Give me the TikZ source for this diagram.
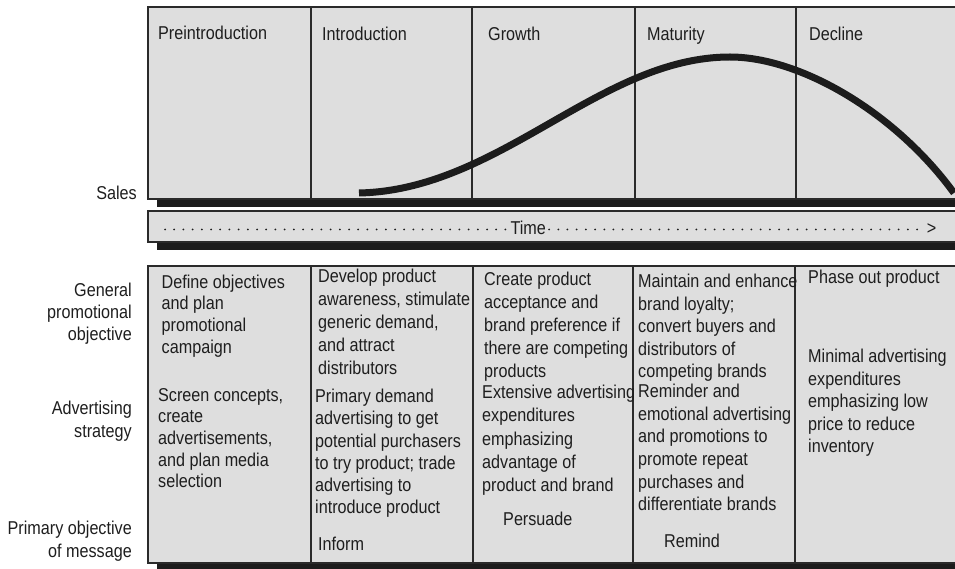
\documentclass[tikz,border=0pt]{standalone}
\usepackage{fontspec}
\setmainfont{Liberation Sans}[FakeStretch=0.87]
\definecolor{panelc}{HTML}{DEDEDE}
\definecolor{linec}{HTML}{2A2A2A}
\definecolor{shadowc}{HTML}{1C1C1C}
\definecolor{textc}{HTML}{1E1E1E}
\begin{document}
\begin{tikzpicture}[x=1pt,y=-1pt,
  txt/.style={font=\fontsize{18.6}{21.7}\selectfont, inner sep=0pt, text=textc},
  celltext/.style={inner sep=0pt, text=textc, font=\fontsize{18.6}{#1}\selectfont, align=left, anchor=north west},
  celltext/.default=22.6,
  lab/.style={txt, align=right, anchor=north east},
  panel/.style={fill=panelc, draw=linec, line width=1.1pt},
  shade/.style={fill=shadowc, draw=none},
  divider/.style={draw=linec, line width=1.1pt},
  timedots/.style={draw=textc, line width=2pt, line cap=round, dash pattern=on 0pt off 9.2pt}]
\useasboundingbox (0,0) rectangle (955,569);

% ---------- top panel ----------
\fill[shade] (157,14) rectangle (964,207);
\path[panel] (148,7) rectangle (964,199);
\foreach \x in {311,472,635,796} \draw[divider] (\x,7) -- (\x,199);

\node[txt, anchor=base west] (h1) at (158,39.3) {Preintroduction};
\node[txt, anchor=base west] (h2) at (322,41) {Introduction};
\node[txt, anchor=base west] (h3) at (488,41) {Growth};
\node[txt, anchor=base west] (h4) at (647,40.7) {Maturity};
\node[txt, anchor=base west] (h5) at (809,41) {Decline};
\node[txt, anchor=base east] (sales) at (137,199.5) {Sales};

\draw[shadowc, line width=7pt] (359,193) .. controls (500,190) and (600,57) .. (730,57)
  .. controls (800,57) and (895,112) .. (954,193);

% ---------- time bar ----------
\fill[shade] (157,218) rectangle (964,250);
\path[panel] (148,211) rectangle (964,242);
\draw[linec, line width=1.6pt] (148,211) -- (964,211);
\node[txt, anchor=base] (time) at (528.2,234.3) {Time};
\node[txt, anchor=base] (tend) at (931.7,235) {>};
\coordinate (tstart) at (165,229.5);
\draw[timedots] (tstart) -- ([xshift=-3pt]tstart -| time.west);
\draw[timedots] ([xshift=3pt]time.east |- tstart) -- ([xshift=-3pt]tstart -| tend.west);

% ---------- bottom table ----------
\fill[shade] (157,273) rectangle (964,571);
\path[panel] (148,266) rectangle (964,563);
\foreach \x in {311,473,633,795} \draw[divider] (\x,266) -- (\x,563);

\node[lab] (l1) at (132,283.2) {General\\promotional\\objective};
\node[lab, font=\fontsize{18.6}{23}\selectfont] (l2) at (132,400.5) {Advertising\\strategy};
\node[lab, font=\fontsize{18.6}{23}\selectfont] (l3) at (132,520.5) {Primary objective\\of message};

\node[celltext=21.7] (c1a) at (161.5,274.5) {Define objectives\\and plan\\promotional\\campaign};
\node[celltext=21.6] (c1b) at (158,388.2) {Screen concepts,\\create\\advertisements,\\and plan media\\selection};

\node[celltext=23] (c2a) at (318,269) {Develop product\\awareness, stimulate\\generic demand,\\and attract\\distributors};
\node[celltext=22.2] (c2b) at (315,389) {Primary demand\\advertising to get\\potential purchasers\\to try product; trade\\advertising to\\introduce product};
\node[txt, anchor=base west] (c2c) at (318,550.5) {Inform};

\node[celltext=23] (c3a) at (484,272) {Create product\\acceptance and\\brand preference if\\there are competing\\products};
\node[celltext=23.2] (c3b) at (482,385) {Extensive advertising\\expenditures\\emphasizing\\advantage of\\product and brand};
\node[txt, anchor=base west] (c3c) at (503,525.5) {Persuade};

\node[celltext=22.5] (c4a) at (638,274) {Maintain and enhance\\brand loyalty;\\convert buyers and\\distributors of\\competing brands};
\node[celltext=22.6] (c4b) at (638,384) {Reminder and\\emotional advertising\\and promotions to\\promote repeat\\purchases and\\differentiate brands};
\node[txt, anchor=base west] (c4c) at (664,547.5) {Remind};

\node[txt, anchor=base west] (c5a) at (808,283.5) {Phase out product};
\node[celltext=22.5] (c5b) at (808,349) {Minimal advertising\\expenditures\\emphasizing low\\price to reduce\\inventory};
\end{tikzpicture}
\end{document}
